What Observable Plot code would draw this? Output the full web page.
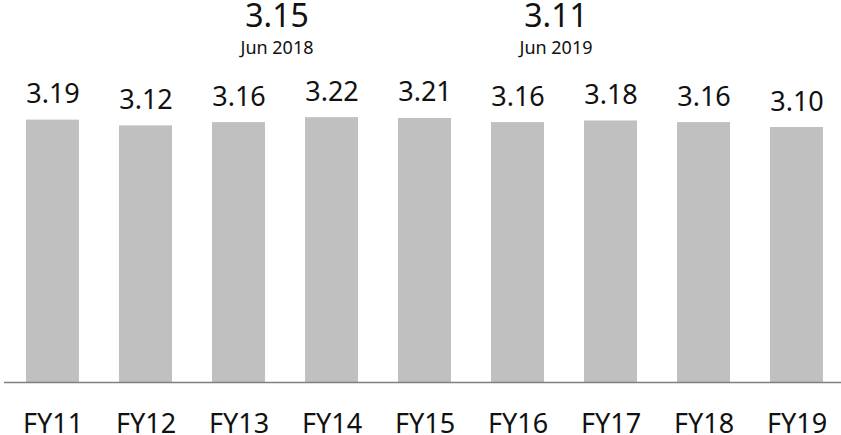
<!DOCTYPE html>
<html><head><meta charset="utf-8">
<script src="https://cdn.jsdelivr.net/npm/d3@7"></script>
<script src="https://cdn.jsdelivr.net/npm/@observablehq/plot@0.6"></script>
<style>html,body{margin:0;padding:0;background:#fff}svg{display:block}</style>
</head><body><div id="chart"></div>
<script>
const years = ["FY11","FY12","FY13","FY14","FY15","FY16","FY17","FY18","FY19"];
const values = [3.19,3.12,3.16,3.22,3.21,3.16,3.18,3.16,3.10];
const noteYears = ["FY13","FY16"];
const noteValues = ["3.15","3.11"];
const noteDates = ["Jun 2018","Jun 2019"];

const data = years.map((year, i) => ({year, value: values[i]}));
const notes = noteYears.map((year, i) => ({year, value: noteValues[i], date: noteDates[i]}));

const chart = Plot.plot({
  width: 841, height: 435,
  marginLeft: 8, marginRight: 0, marginTop: 53, marginBottom: 53,
  style: {fontFamily: "'Noto Sans', sans-serif", color: "#111", background: "#fff"},
  x: {domain: years, paddingInner: 0.4274, paddingOuter: 0.171, label: null},
  y: {domain: [0, 4], axis: null},
  marks: [
    Plot.barY(data, {x: "year", y: "value", fill: "#c0c0c0"}),
    Plot.ruleY([0], {stroke: "#7f7f7f", strokeWidth: 1.5, insetLeft: -4}),
    Plot.text(data, {x: "year", y: "value", text: d => d.value.toFixed(2), dy: -17, lineAnchor: "bottom", fontSize: 27, fill: "#111"}),
    Plot.text(notes, {x: "year", frameAnchor: "top", text: "value", dx: 38, dy: -27, lineAnchor: "bottom", fontSize: 32, fill: "#111"}),
    Plot.text(notes, {x: "year", frameAnchor: "top", text: "date", dx: 38, dy: 0, lineAnchor: "bottom", fontSize: 18, fill: "#111"}),
    Plot.axisX({tickSize: 0, tickPadding: 31, fontSize: 27, label: null, fill: "#111"})
  ]
});
document.getElementById("chart").append(chart);
</script>
</body></html>
